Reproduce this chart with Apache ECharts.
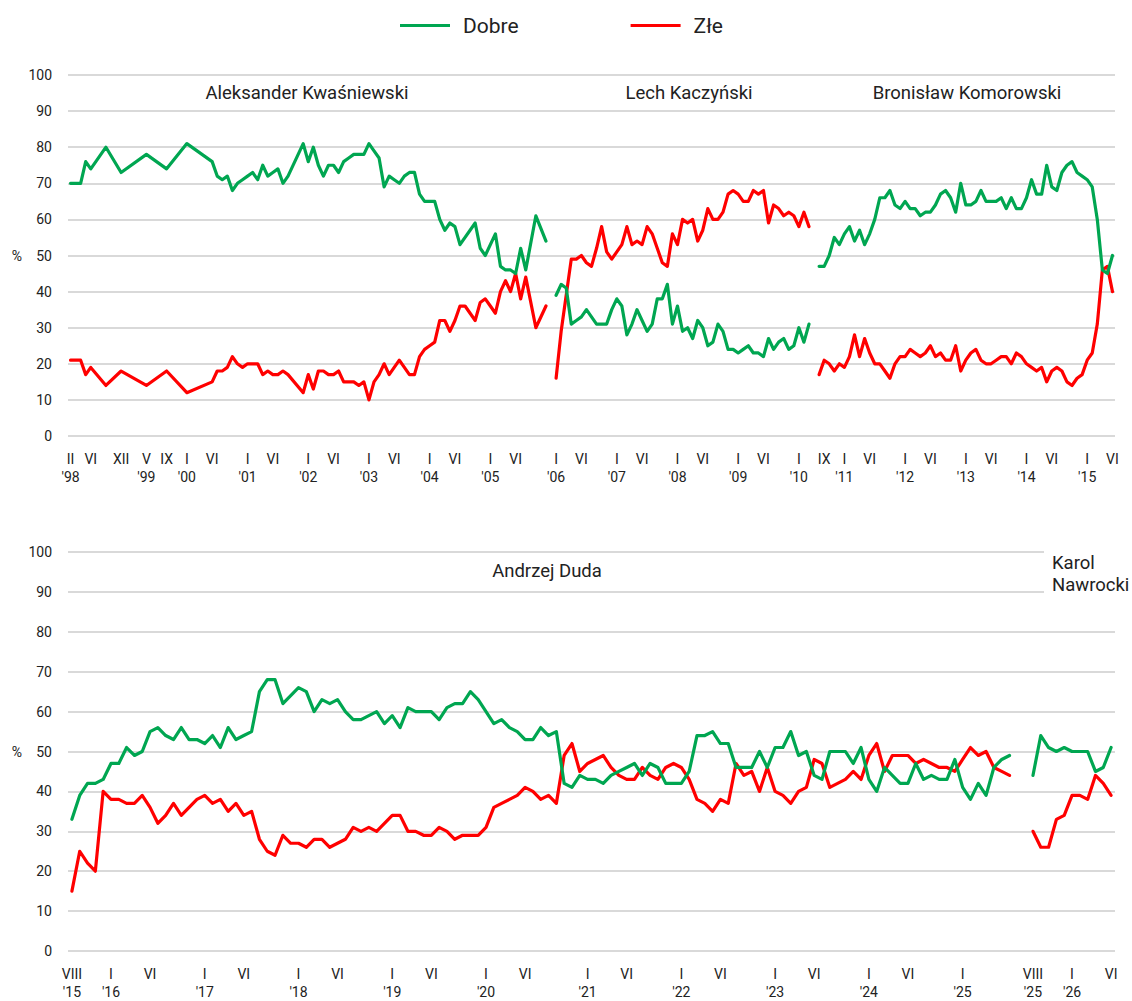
<!DOCTYPE html>
<html><head><meta charset="utf-8">
<script src="https://cdn.jsdelivr.net/npm/echarts/dist/echarts.min.js"></script>
<style>html,body{margin:0;padding:0;background:#fff}#c{width:1132px;height:1001px}</style>
</head><body><div id="c"></div>
<script>
function monthRange(y1, m1, y2, m2) {
  var out = [];
  var y = y1, m = m1;
  while (y < y2 || (y === y2 && m <= m2)) {
    out.push(y + '-' + (m < 10 ? '0' + m : m));
    m++; if (m > 12) { m = 1; y++; }
  }
  return out;
}
// Categories (survey slots)
var topCategories = [].concat(monthRange(1998,2,2005,9), ['2005-09b'], monthRange(2005,10,2010,3), ['2010-gap'], monthRange(2010,8,2015,6));
var bottomCategories = [].concat(monthRange(2015,8,2020,7), ['2020-07b'], monthRange(2020,8,2025,7), ['2025-gap1','2025-gap2'], monthRange(2025,8,2026,6));

// Tick labels
var topTicks = {
  '1998-02':"II\n'98", '1998-06':'VI', '1998-12':'XII', '1999-05':"V\n'99", '1999-09':'IX',
  '2000-01':"I\n'00", '2000-06':'VI', '2001-01':"I\n'01", '2001-06':'VI', '2002-01':"I\n'02", '2002-06':'VI',
  '2003-01':"I\n'03", '2003-06':'VI', '2004-01':"I\n'04", '2004-06':'VI', '2005-01':"I\n'05", '2005-06':'VI',
  '2006-01':"I\n'06", '2006-06':'VI', '2007-01':"I\n'07", '2007-06':'VI', '2008-01':"I\n'08", '2008-06':'VI',
  '2009-01':"I\n'09", '2009-06':'VI', '2010-01':"I\n'10", '2010-09':'IX', '2011-01':"I\n'11", '2011-06':'VI',
  '2012-01':"I\n'12", '2012-06':'VI', '2013-01':"I\n'13", '2013-06':'VI', '2014-01':"I\n'14", '2014-06':'VI',
  '2015-01':"I\n'15", '2015-06':'VI'
};
var bottomTicks = {
  '2015-08':"VIII\n'15", '2016-01':"I\n'16", '2016-06':'VI', '2017-01':"I\n'17", '2017-06':'VI',
  '2018-01':"I\n'18", '2018-06':'VI', '2019-01':"I\n'19", '2019-06':'VI', '2020-01':"I\n'20", '2020-06':'VI',
  '2021-01':"I\n'21", '2021-06':'VI', '2022-01':"I\n'22", '2022-06':'VI', '2023-01':"I\n'23", '2023-06':'VI',
  '2024-01':"I\n'24", '2024-06':'VI', '2025-01':"I\n'25", '2025-08':"VIII\n'25", '2026-01':"I\n'26", '2026-06':'VI'
};

// Aleksander Kwaśniewski (from 1998-02)
var kwasStart = '1998-02';
var kwasDobre = [70,null,70,76,74,null,null,80,null,null,73,null,null,null,null,78,null,null,null,74,null,null,null,81,null,null,null,null,
  76,72,71,72,68,70,71,72,73,71,75,72,73,74,70,72,null,null,81,76,80,75,72,75,75,73,76,77,78,78,
  78,81,79,77,69,72,71,70,72,73,73,67,65,65,65,60,57,59,58,53,null,null,59,52,50,null,56,47,46,46,45,52,46,null,61,null,54];
var kwasZle = [21,null,21,17,19,null,null,14,null,null,18,null,null,null,null,14,null,null,null,18,null,null,null,12,null,null,null,null,
  15,18,18,19,22,20,19,20,20,20,17,18,17,17,18,17,null,null,12,17,13,18,18,17,17,18,15,15,15,14,
  15,10,15,17,20,17,19,21,19,17,17,22,24,25,26,32,32,29,32,36,36,34,32,37,38,36,34,40,43,40,45,38,44,null,30,null,36];

// Lech Kaczyński (from 2006-01)
var kaczStart = '2006-01';
var kaczDobre = [39,42,41,31,32,33,35,33,31,31,31,35,38,36,28,31,35,32,29,31,38,38,42,31,36,29,30,27,32,30,25,26,31,29,24,24,23,24,25,23,23,22,27,24,26,27,24,25,30,26,31];
var kaczZle = [16,29,39,49,49,50,48,47,52,58,51,49,51,53,58,53,54,53,58,56,52,48,47,56,53,60,59,60,54,57,63,60,60,62,67,68,67,65,65,68,67,68,59,64,63,61,62,61,58,62,58];

// Bronisław Komorowski (from 2010-08)
var komoStart = '2010-08';
var komoDobre = [47,47,50,55,53,56,58,54,57,53,56,60,66,66,68,64,63,65,63,63,61,62,62,64,67,68,66,62,70,64,64,65,68,65,65,65,66,63,66,63,63,66,71,67,67,75,69,68,73,75,76,73,72,71,69,60,46,45,50];
var komoZle = [17,21,20,18,20,19,22,28,22,27,23,20,20,18,16,20,22,22,24,23,22,23,25,22,23,21,21,25,18,21,23,24,21,20,20,21,22,22,20,23,22,20,19,18,19,15,18,19,18,15,14,16,17,21,23,31,46,47,40];

// Andrzej Duda (from 2015-08)
var dudaStart = '2015-08';
var dudaDobre = [33,39,42,42,43,47,47,51,49,50,55,56,54,53,56,53,53,52,54,51,56,53,54,55,65,68,68,62,64,66,65,60,63,62,63,60,
  58,58,59,60,57,59,56,61,60,60,60,58,61,62,62,65,63,60,57,58,56,55,53,53,56,54,55,42,41,44,43,43,42,44,45,46,47,44,47,46,
  42,42,42,45,54,54,55,52,52,46,46,46,50,46,51,51,55,49,50,44,43,50,50,50,47,51,43,40,46,44,42,42,47,43,44,43,43,48,41,38,42,39,46,48,49];
var dudaZle = [15,25,22,20,40,38,38,37,37,39,36,32,34,37,34,36,38,39,37,38,35,37,34,35,28,25,24,29,27,27,26,28,28,26,27,28,
  31,30,31,30,32,34,34,30,30,29,29,31,30,28,29,29,29,31,36,37,38,39,41,40,38,39,37,49,52,45,47,48,49,46,44,43,43,46,44,43,
  46,47,46,43,38,37,35,38,37,47,44,45,40,46,40,39,37,40,41,48,47,41,42,43,45,43,49,52,45,49,49,49,47,48,47,46,46,45,48,51,49,50,46,45,44];

// Karol Nawrocki (from 2025-08)
var nawrStart = '2025-08';
var nawrDobre = [44,54,51,50,51,50,50,50,45,46,51];
var nawrZle = [30,26,26,33,34,39,39,38,44,42,39];

var GREEN = '#00a651', RED = '#ff0000';
var FONT = 'Roboto, "Noto Sans", sans-serif';

function mkSeries(name, vals, start, cats, axisIdx, color) {
  var s = cats.indexOf(start);
  var data = vals.map(function (v, i) { return [s + i, v]; }).filter(function (d) { return d[1] !== null; });
  return {
    name: name, type: 'line', xAxisIndex: axisIdx, yAxisIndex: axisIdx,
    data: data, showSymbol: false, symbol: 'none', color: color,
    lineStyle: { width: 3.2, color: color, join: 'round', cap: 'round' },
    animation: false, z: color === RED ? 3 : 4
  };
}

var series = [
  mkSeries('Dobre', kwasDobre, kwasStart, topCategories, 0, GREEN),
  mkSeries('Złe', kwasZle, kwasStart, topCategories, 0, RED),
  mkSeries('Dobre', kaczDobre, kaczStart, topCategories, 0, GREEN),
  mkSeries('Złe', kaczZle, kaczStart, topCategories, 0, RED),
  mkSeries('Dobre', komoDobre, komoStart, topCategories, 0, GREEN),
  mkSeries('Złe', komoZle, komoStart, topCategories, 0, RED),
  mkSeries('Dobre', dudaDobre, dudaStart, bottomCategories, 1, GREEN),
  mkSeries('Złe', dudaZle, dudaStart, bottomCategories, 1, RED),
  mkSeries('Dobre', nawrDobre, nawrStart, bottomCategories, 1, GREEN),
  mkSeries('Złe', nawrZle, nawrStart, bottomCategories, 1, RED)
];

function xAxis(idx, cats, ticks) {
  return {
    type: 'category', gridIndex: idx, data: cats, boundaryGap: true,
    axisLine: { show: false }, axisTick: { show: false }, splitLine: { show: false },
    axisLabel: {
      interval: function (i, v) { return ticks.hasOwnProperty(v); },
      formatter: function (v) { return ticks[v] || ''; },
      fontFamily: FONT, fontSize: 14, color: '#222', lineHeight: 18, margin: 14
    }
  };
}
function yAxis(idx) {
  return {
    type: 'value', gridIndex: idx, min: 0, max: 100, interval: 10,
    name: '%', nameLocation: 'middle', nameRotate: 0, nameGap: 46,
    nameTextStyle: { fontFamily: FONT, fontSize: 14, color: '#222' },
    axisLine: { show: false }, axisTick: { show: false },
    axisLabel: { fontFamily: FONT, fontSize: 14, color: '#222', margin: 16 },
    splitLine: { lineStyle: { color: '#d9d9d9', width: 2 } }
  };
}

var ANN = '18.5px ' + FONT;
var chart = echarts.init(document.getElementById('c'), null, { renderer: 'svg' });
chart.setOption({
  backgroundColor: '#fff',
  animation: false,
  legend: {
    data: ['Dobre', 'Złe'], top: 15, left: 400, padding: 0, icon: 'rect',
    itemWidth: 50, itemHeight: 3, itemGap: 112,
    textStyle: { fontFamily: FONT, fontSize: 21, color: '#222', padding: [0, 0, 0, 8] }
  },
  grid: [
    { left: 68, right: 17, top: 75, height: 361 },
    { left: 68, right: 17, top: 552, height: 405 }
  ],
  xAxis: [xAxis(0, topCategories, topTicks), xAxis(1, bottomCategories, bottomTicks)],
  yAxis: [yAxis(0), yAxis(1)],
  series: series,
  graphic: [
    { type: 'text', x: 307, y: 93, style: { text: 'Aleksander Kwaśniewski', font: ANN, fill: '#222', textAlign: 'center', textVerticalAlign: 'middle' } },
    { type: 'text', x: 689, y: 93, style: { text: 'Lech Kaczyński', font: ANN, fill: '#222', textAlign: 'center', textVerticalAlign: 'middle' } },
    { type: 'text', x: 967, y: 93, style: { text: 'Bronisław Komorowski', font: ANN, fill: '#222', textAlign: 'center', textVerticalAlign: 'middle' } },
    { type: 'text', x: 547, y: 571, style: { text: 'Andrzej Duda', font: ANN, fill: '#222', textAlign: 'center', textVerticalAlign: 'middle' } },
    { type: 'rect', x: 1044, y: 545, z: 50, shape: { width: 88, height: 52 }, style: { fill: '#fff' } },
    { type: 'text', x: 1052, y: 563, z: 51, style: { text: 'Karol', font: ANN, fill: '#222', textAlign: 'left', textVerticalAlign: 'middle' } },
    { type: 'text', x: 1052, y: 585, z: 51, style: { text: 'Nawrocki', font: ANN, fill: '#222', textAlign: 'left', textVerticalAlign: 'middle' } }
  ]
});
</script></body></html>
